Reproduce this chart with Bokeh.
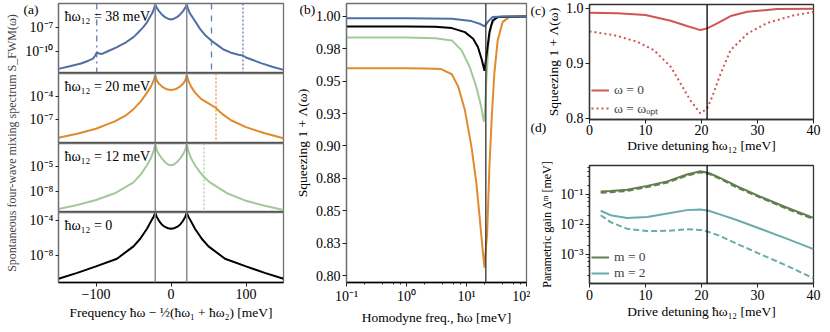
import numpy as np
from bokeh.plotting import figure
from bokeh.layouts import row, column
from bokeh.models import (Span, Label, Legend, LegendItem, FixedTicker, LogTicker,
                          CustomJSTickFormatter, Range1d, Title)
from bokeh.embed import file_html
from bokeh.resources import INLINE

FONT = "Liberation Serif"
FS_TICK = "14px"
FS_LAB = "13.5px"
FS_LONG = "12px"

# ---------------- data: panel (a) (log10 of the spectrum) ----------------
a_titles = ["ħω₁₂ = 38 meV", "ħω₁₂ = 20 meV", "ħω₁₂ = 12 meV", "ħω₁₂ = 0"]
a_colors = ["#4f6fa6", "#e08a2e", "#a3c99a", "#000000"]

a_x_38 = [-150, -135, -120, -110, -104, -101, -99, -96, -92, -85, -72, -60, -50, -45, -37, -32, -28, -25, -23,
          -21, -19, -16, -12, -8, -4, 0, 4, 8, 12, 16, 19, 21, 23, 25, 30, 38.7, 45, 54, 62, 70, 80, 90, 96,
          100, 110, 120, 135, 150]
a_log_38 = [-12.17, -11.85, -11.5, -11.15, -10.9, -10.5, -10.1, -10.25, -10.3, -10.0, -9.46, -8.85, -8.2, -7.75,
            -6.96, -6.35, -5.7, -5.2, -4.75, -4.1, -4.55, -4.95, -5.4, -5.7, -5.9, -6.0, -5.9, -5.7, -5.4, -4.95,
            -4.55, -4.1, -4.75, -5.2, -5.9, -7.17, -7.9, -8.65, -9.2, -9.75, -10.15, -10.4, -10.5, -10.75,
            -11.1, -11.45, -11.9, -12.3]

a_x_20 = [-150, -125, -100, -75, -60, -50, -40, -32, -27, -23, -21, -19, -16, -12, -8, -4, 0, 4, 8, 12, 16, 19,
          21, 23, 27, 32, 40, 50, 60, 65, 70, 80, 100, 125, 150]
a_log_20 = [-9.39, -8.85, -8.2, -7.25, -6.45, -5.65, -4.6, -3.5, -2.75, -1.9, -1.2, -1.9, -2.35, -2.7, -2.95,
            -3.1, -3.15, -3.1, -2.95, -2.7, -2.35, -1.9, -1.2, -1.9, -2.75, -3.5, -4.3, -4.9, -5.5, -6.0, -6.4,
            -7.1, -8.0, -8.8, -9.45]

a_x_12 = [-150, -125, -100, -75, -50, -40, -32, -27, -23, -21, -19, -16, -12, -8, -4, 0, 4, 8, 12, 16, 19, 21,
          23, 27, 32, 38, 44, 52, 75, 100, 125, 150]
a_log_12 = [-10.08, -9.6, -9.0, -8.2, -6.9, -5.9, -4.85, -4.05, -3.1, -2.3, -3.0, -3.55, -4.05, -4.45, -4.75,
            -4.85, -4.75, -4.45, -4.05, -3.55, -3.0, -2.3, -3.1, -4.05, -4.85, -5.6, -6.25, -6.9, -8.2, -9.1,
            -9.7, -10.2]

a_x_0 = [-150, -125, -100, -72, -50, -41, -32, -26, -23, -21, -19, -16, -12, -8, -4, 0, 4, 8, 12, 16, 19, 21,
         23, 26, 32, 41, 50, 72, 100, 125, 150]
a_log_0 = [-10.67, -10.0, -9.26, -8.38, -6.97, -6.1, -4.95, -4.0, -3.55, -3.15, -3.6, -4.05, -4.5, -4.75, -4.9,
           -4.95, -4.9, -4.75, -4.5, -4.05, -3.6, -3.15, -3.55, -4.0, -4.95, -6.1, -6.97, -8.38, -9.26, -10.0,
           -10.67]

a_xs = [a_x_38, a_x_20, a_x_12, a_x_0]
a_logs = [a_log_38, a_log_20, a_log_12, a_log_0]
a_ylog_ranges = [(-12.75, -4.0), (-10.13, -1.0), (-10.5, -2.24), (-11.1, -3.1)]
a_yticks = [[1e-7, 1e-10], [1e-4, 1e-7], [1e-5, 1e-8], [1e-4, 1e-8]]
a_yticklabels = [["10⁻⁷", "10⁻¹⁰"], ["10⁻⁴", "10⁻⁷"], ["10⁻⁵", "10⁻⁸"], ["10⁻⁴", "10⁻⁸"]]
a_xticks = [-100, 0, 100]
a_xticklabels = ["−100", "0", "100"]
a_drive_lines = [-21, 21]
a_marker_lines = [[(-99, "dashdot"), (54, "dashed"), (96, "dotted")], [(60, "dotted")], [(44, "dotted")], []]
a_ylabel = "Spontaneous four-wave mixing spectrum S_FWM(ω)"

# ---------------- data: panel (b) ----------------
b_w_blue = [0.1, 1, 5.7, 12.1, 16.5, 19.95, 23.2, 27.3, 40, 100]
b_blue = [0.9987, 0.9987, 0.9982, 0.9964, 0.9944, 0.9923, 0.9964, 0.9995, 1.0, 1.0]
b_w_black = [0.1, 1, 3, 5.7, 9.4, 12.9, 15.5, 18.1, 19.95, 22.1, 24.1, 27.3, 33.1, 100]
b_black = [0.9923, 0.9923, 0.9921, 0.991, 0.9879, 0.9828, 0.9764, 0.9662, 0.958, 0.9738, 0.9879, 0.9969,
           0.9995, 1.0]
b_w_green = [0.1, 1, 3, 5.7, 8.3, 11.3, 14.6, 17.6, 19.5, 20.2, 21.3, 23.2, 25.7, 31, 40, 100]
b_green = [0.9838, 0.9838, 0.9832, 0.9815, 0.9738, 0.961, 0.9456, 0.9302, 0.9187, 0.925, 0.9482, 0.979,
           0.9931, 0.999, 1.0, 1.0]
b_w_orange = [0.1, 1, 2, 3.7, 5.7, 7.3, 9.4, 12.1, 14.6, 16.5, 18.8, 19.95, 20.8, 22.1, 24.1, 26.4, 29.1,
              33.1, 39.9, 51, 100]
b_orange = [0.960, 0.960, 0.9598, 0.9595, 0.9554, 0.9456, 0.9277, 0.8995, 0.8713, 0.8457, 0.8177, 0.806,
            0.818, 0.833, 0.884, 0.9226, 0.956, 0.9815, 0.9956, 0.9995, 1.0]
b_yticks = [0.8, 0.825, 0.85, 0.875, 0.9, 0.925, 0.95, 0.975, 1.0]
b_yticklabels = ["0.80", "0.83", "0.85", "0.88", "0.90", "0.93", "0.95", "0.98", "1.00"]
b_xticks = [0.1, 1, 10, 100]
b_xticklabels = ["10⁻¹", "10⁰", "10¹", "10²"]

# ---------------- data: panel (c) ----------------
c_x_w0 = [0, 5, 10, 14.5, 17.4, 19.8, 21, 22.8, 25.2, 28.2, 33.5, 40]
c_w0 = [0.992, 0.991, 0.9878, 0.9775, 0.9678, 0.9605, 0.9636, 0.9727, 0.986, 0.9938, 0.9987, 0.9995]
c_x_opt = [0, 4.3, 8.5, 11.5, 14.5, 16.25, 18, 19.8, 21, 21.9, 23.4, 25.2, 28.2, 31.7, 36.5, 40]
c_opt = [0.9582, 0.9515, 0.9394, 0.924, 0.894, 0.8636, 0.833, 0.809, 0.818, 0.839, 0.881, 0.924, 0.954,
         0.9733, 0.9873, 0.9933]
c_yticks = [0.8, 0.9, 1.0]
c_yticklabels = ["0.8", "0.9", "1.0"]
cd_xticks = [0, 10, 20, 30, 40]
cd_xticklabels = ["0", "10", "20", "30", "40"]
cd_drive = 21

# ---------------- data: panel (d) (log10 of the gain) ----------------
d_x = [2, 3.75, 6.7, 10.3, 13.9, 17.4, 19.8, 21.3, 23.4, 26.4, 30.5, 35.3, 40]
d_m0_solid = [-0.9, -0.88, -0.84, -0.71, -0.56, -0.33, -0.22, -0.28, -0.45, -0.73, -1.07, -1.44, -1.78]
d_m0_dashed = [-0.94, -0.92, -0.88, -0.75, -0.6, -0.37, -0.26, -0.31, -0.48, -0.77, -1.1, -1.48, -1.82]
d_m2_solid = [-1.54, -1.69, -1.78, -1.75, -1.63, -1.52, -1.5, -1.54, -1.67, -1.86, -2.14, -2.48, -2.82]
d_m2_dashed = [-1.69, -1.92, -2.14, -2.22, -2.21, -2.16, -2.18, -2.25, -2.39, -2.65, -2.99, -3.38, -3.8]
d_yticks = [1e-1, 1e-2, 1e-3]
d_yticklabels = ["10⁻¹", "10⁻²", "10⁻³"]

panel_letters = ["(a)", "(b)", "(c)", "(d)"]

# ---------------- helpers ----------------
FMT_CODE = """
let best = -1, bd = 1e9;
for (let i = 0; i < t.length; i++) {
  const d = lg ? Math.abs(Math.log10(t[i]) - Math.log10(tick)) : Math.abs(t[i] - tick);
  if (d < bd) { bd = d; best = i; }
}
return (best >= 0 && bd < 1e-6) ? l[best] : "";
"""


def fmt(ticks, labels, log=False):
    return CustomJSTickFormatter(args=dict(t=list(ticks), l=list(labels), lg=log), code=FMT_CODE)


def style(p, outline="#707070"):
    p.background_fill_color = "white"
    p.border_fill_color = "white"
    p.outline_line_color = outline
    p.outline_line_width = 1.3
    p.grid.visible = False
    for ax in p.axis:
        ax.major_label_text_font = FONT
        ax.major_label_text_font_size = FS_TICK
        ax.major_label_text_color = "black"
        ax.axis_label_text_font = FONT
        ax.axis_label_text_font_size = FS_LAB
        ax.axis_label_text_font_style = "normal"
        ax.axis_label_text_color = "black"
        ax.axis_line_color = outline
        ax.axis_line_width = 1.3
        ax.major_tick_line_color = "#222222"
        ax.minor_tick_line_color = "#222222"
        ax.major_tick_out = 4
        ax.major_tick_in = 0
        ax.minor_tick_out = 2
        ax.minor_tick_in = 0
        ax.major_label_standoff = 2
        ax.axis_label_standoff = 3


def text_label(p, x, y, text, align="left", baseline="middle", size=FS_LAB):
    p.add_layout(Label(x=x, y=y, x_units="data", y_units="data", text=text, text_font=FONT,
                       text_font_size=size, text_align=align, text_baseline=baseline,
                       text_color="black"))


def panel_letter(p, text, dx, side="above", valign="bottom", standoff=-26):
    t = Title(text=text, align="left", offset=dx, standoff=standoff, vertical_align=valign,
              text_font=FONT, text_font_size=FS_LAB, text_font_style="normal", text_color="black")
    p.add_layout(t, side)


TOP = 3          # frame top of panels (a), (b)
BOT_A = 47       # bottom border of (a) / (b) / (d)
TOTAL_H = 329

# ---------------- y label strip for panel (a) ----------------
STRIP_W = 20
lab_frame_h = TOTAL_H - TOP - BOT_A
lab = figure(width=STRIP_W, height=TOTAL_H, x_range=Range1d(0, STRIP_W), y_range=Range1d(0, lab_frame_h),
             x_axis_location=None, y_axis_location=None, output_backend="svg",
             toolbar_location=None, min_border=0, min_border_top=TOP, min_border_bottom=BOT_A)
lab.outline_line_color = None
lab.grid.visible = False
lab.add_layout(Label(x=11, y=lab_frame_h / 2.0, text=a_ylabel, text_font=FONT, text_font_size=FS_LONG,
                     text_align="center", text_baseline="middle", angle=np.pi / 2))

# ---------------- panel (a) ----------------
a_figs = []
SUB_HS = [70, 70, 69, 70]
A_W = 266
FRAME_W_A = 225
for i in range(4):
    lo, hi = a_ylog_ranges[i]
    last = i == 3
    top_b = TOP if i == 0 else 0
    bot_b = BOT_A if last else 0
    sub_h = SUB_HS[i]
    p = figure(width=A_W, height=sub_h + top_b + bot_b, x_range=Range1d(-150, 150),
               y_range=Range1d(10 ** lo, 10 ** hi), y_axis_type="log",
               x_axis_location="below" if last else None, output_backend="svg",
               toolbar_location=None, min_border=0, min_border_left=A_W - FRAME_W_A - 3,
               min_border_right=3, min_border_top=top_b, min_border_bottom=bot_b)
    style(p)
    p.yaxis.major_tick_out = 3
    p.yaxis.ticker = FixedTicker(ticks=a_yticks[i])
    p.yaxis.formatter = fmt(a_yticks[i], a_yticklabels[i], log=True)
    if last:
        p.xaxis.ticker = FixedTicker(ticks=a_xticks)
        p.xaxis.formatter = fmt(a_xticks, a_xticklabels)
        p.xaxis.axis_label = "Frequency ħω − ½(ħω₁ + ħω₂) [meV]"
        p.xaxis.axis_line_color = "black"
    for xl in a_drive_lines:
        p.add_layout(Span(location=xl, dimension="height", line_color="#8a8a8a", line_width=1.5))
    for xl, dash in a_marker_lines[i]:
        p.add_layout(Span(location=xl, dimension="height", line_color=a_colors[i], line_width=1.3,
                          line_dash=dash if dash != "dotted" else "2 2", line_alpha=0.9))
    p.line(a_xs[i], np.power(10.0, np.array(a_logs[i])), line_color=a_colors[i], line_width=2)
    if not last:
        p.add_layout(Span(location=10 ** lo, dimension="width", line_color="black", line_width=1.5))
    dec_per_px = (hi - lo) / sub_h
    text_label(p, -142, 10 ** (hi - 13.0 * dec_per_px), a_titles[i], size=FS_TICK)
    if i == 0:
        panel_letter(p, panel_letters[0], -35)
    a_figs.append(p)

col_a = column(*a_figs, spacing=0)

# ---------------- panel (b) ----------------
pb = figure(width=244, height=TOTAL_H, x_axis_type="log", x_range=Range1d(0.1, 100),
            y_range=Range1d(0.7946, 1.010), output_backend="svg", toolbar_location=None,
            min_border=0, min_border_left=60, min_border_right=4, min_border_top=TOP,
            min_border_bottom=BOT_A - 1)
style(pb)
pb.xaxis.ticker = LogTicker()
pb.xaxis.formatter = fmt(b_xticks, b_xticklabels, log=True)
pb.yaxis.ticker = FixedTicker(ticks=b_yticks)
pb.yaxis.formatter = fmt(b_yticks, b_yticklabels)
pb.xaxis.axis_label = "Homodyne freq., ħω [meV]"
pb.yaxis.axis_label = "Squeezing 1 + Λ(ω)"
pb.xaxis.axis_line_color = "black"
pb.add_layout(Span(location=cd_drive, dimension="height", line_color="#333333", line_width=1.3))
pb.line(b_w_orange, b_orange, line_color=a_colors[1], line_width=2)
pb.line(b_w_green, b_green, line_color=a_colors[2], line_width=2)
pb.line(b_w_black, b_black, line_color=a_colors[3], line_width=2)
pb.line(b_w_blue, b_blue, line_color=a_colors[0], line_width=2)
panel_letter(pb, panel_letters[1], -47)

# ---------------- panel (c) ----------------
RED = "#cf5656"
CD_W = 299
pc = figure(width=CD_W, height=159, x_range=Range1d(0, 40), y_range=Range1d(0.798, 1.007),
            output_backend="svg", toolbar_location=None, min_border=0, min_border_left=59,
            min_border_right=16, min_border_top=4, min_border_bottom=40)
style(pc, outline="#333333")
pc.xaxis.ticker = FixedTicker(ticks=cd_xticks)
pc.xaxis.formatter = fmt(cd_xticks, cd_xticklabels)
pc.yaxis.ticker = FixedTicker(ticks=c_yticks)
pc.yaxis.formatter = fmt(c_yticks, c_yticklabels)
pc.xaxis.axis_label = "Drive detuning ħω₁₂ [meV]"
pc.yaxis.axis_label = "Squeezing 1 + Λ(ω)"
pc.xaxis.major_label_standoff = 1
pc.xaxis.axis_label_standoff = 0
pc.yaxis.axis_label_standoff = 2
pc.add_layout(Span(location=cd_drive, dimension="height", line_color="black", line_width=1.3))
rc1 = pc.line(c_x_w0, c_w0, line_color=RED, line_width=2)
rc2 = pc.line(c_x_opt, c_opt, line_color=RED, line_width=2, line_dash="2 3")
leg_c = Legend(items=[LegendItem(label="ω = 0", renderers=[rc1]),
                      LegendItem(label="ω = ωₒₚₜ", renderers=[rc2])],
               location="bottom_left", margin=0, spacing=1, padding=2)
panel_letter(pc, panel_letters[2], -59)
panel_letter(pc, panel_letters[3], -59, side="below", valign="top", standoff=-72)

# ---------------- panel (d) ----------------
DGREEN = "#5f7f4f"
TEAL = "#6aabab"
pd_ = figure(width=CD_W, height=TOTAL_H - 159, y_axis_type="log", x_range=Range1d(0, 40),
             y_range=Range1d(10 ** -3.97, 10 ** -0.03), output_backend="svg", toolbar_location=None,
             min_border=0, min_border_left=59, min_border_right=16, min_border_top=6,
             min_border_bottom=BOT_A - 1)
style(pd_, outline="#333333")
pd_.xaxis.ticker = FixedTicker(ticks=cd_xticks)
pd_.xaxis.formatter = fmt(cd_xticks, cd_xticklabels)
pd_.yaxis.ticker = LogTicker()
pd_.yaxis.formatter = fmt(d_yticks, d_yticklabels, log=True)
pd_.xaxis.axis_label = "Drive detuning ħω₁₂ [meV]"
pd_.xaxis.axis_label_standoff = 1
pd_.yaxis.axis_label = "Parametric gain Δᵐ [meV]"
pd_.yaxis.axis_label_text_font_size = FS_LONG
pd_.add_layout(Span(location=cd_drive, dimension="height", line_color="black", line_width=1.3))
rd1 = pd_.line(d_x, np.power(10.0, np.array(d_m0_solid)), line_color=DGREEN, line_width=2)
pd_.line(d_x, np.power(10.0, np.array(d_m0_dashed)), line_color=DGREEN, line_width=2, line_dash="6 3")
rd2 = pd_.line(d_x, np.power(10.0, np.array(d_m2_solid)), line_color=TEAL, line_width=2)
pd_.line(d_x, np.power(10.0, np.array(d_m2_dashed)), line_color=TEAL, line_width=2, line_dash="6 3")
leg_d = Legend(items=[LegendItem(label="m = 0", renderers=[rd1]),
                      LegendItem(label="m = 2", renderers=[rd2])],
               location="bottom_left", margin=0, spacing=-4, padding=0)

for leg in (leg_c, leg_d):
    leg.label_text_font = FONT
    leg.label_text_font_size = FS_LAB
    leg.glyph_width = 18
    leg.glyph_height = 10
    leg.label_standoff = 5
    leg.label_height = 12
    leg.background_fill_alpha = 0
    leg.border_line_alpha = 0
leg_d.margin = 2
pc.add_layout(leg_c)
pd_.add_layout(leg_d)

col_cd = column(pc, pd_, spacing=0)
layout = row(lab, col_a, pb, col_cd, spacing=0)

open("out.html", "w").write(file_html(layout, INLINE))
